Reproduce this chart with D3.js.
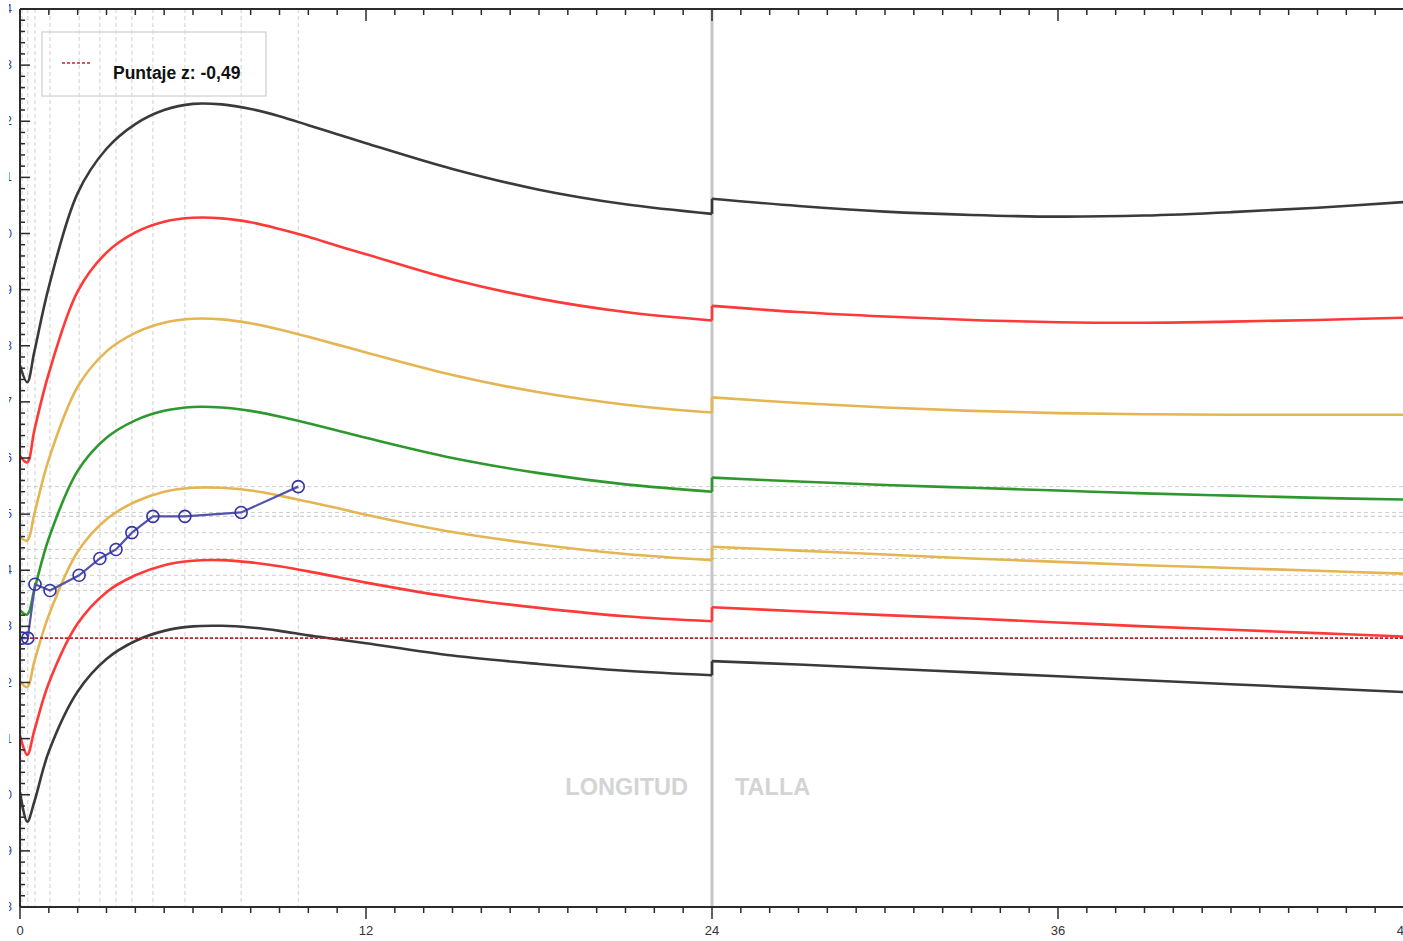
<!DOCTYPE html>
<html>
<head>
<meta charset="utf-8">
<script src="https://cdn.jsdelivr.net/npm/d3@7"></script>
<style>
  html, body { margin: 0; padding: 0; background: #fff; }
  svg { display: block; font-family: "Liberation Sans", Arial, sans-serif; }
</style>
</head>
<body>
<svg id="chart" width="1403" height="941"></svg>
<script>
// BMI-for-age reference curves (girls), z-scores -3..+3
// Ages in months; the 0-24 segment is length-based, 24-48 is height-based.
const lengthAges = [0, 0.25, 0.5, 1, 2, 3, 4, 5, 6, 7, 8, 9, 10, 11, 12, 15, 18, 21, 24];
const heightAges = [24, 27, 30, 33, 36, 39, 42, 45, 48];

const zLabels = ["+3", "+2", "+1", "0", "-1", "-2", "-3"];
const zColors = ["#3a3a3a", "#ff3838", "#e4b552", "#2e982e", "#e4b552", "#ff3838", "#3a3a3a"];

const lengthP3 = [17.65, 17.35, 17.90, 19.05, 20.72, 21.51, 21.95, 22.20, 22.31, 22.30, 22.22, 22.09, 21.93, 21.77, 21.61, 21.15, 20.78, 20.52, 20.35];
const lengthP2 = [16.04, 15.92, 16.50, 17.51, 18.97, 19.66, 20.02, 20.21, 20.28, 20.27, 20.20, 20.08, 19.94, 19.78, 19.63, 19.18, 18.84, 18.60, 18.45];
const lengthP1 = [14.59, 14.53, 15.01, 15.98, 17.27, 17.90, 18.23, 18.41, 18.48, 18.47, 18.40, 18.29, 18.16, 18.02, 17.88, 17.48, 17.17, 16.95, 16.81];
const length0  = [13.29, 13.21, 13.66, 14.57, 15.77, 16.36, 16.67, 16.84, 16.91, 16.90, 16.84, 16.74, 16.62, 16.49, 16.36, 16.00, 15.73, 15.53, 15.40];
const lengthM1 = [12.02, 11.92, 12.38, 13.20, 14.33, 14.91, 15.22, 15.40, 15.47, 15.47, 15.42, 15.33, 15.22, 15.11, 14.99, 14.68, 14.46, 14.29, 14.18];
const lengthM2 = [11.06, 10.71, 11.15, 11.99, 13.05, 13.61, 13.91, 14.09, 14.17, 14.18, 14.14, 14.07, 13.98, 13.88, 13.78, 13.52, 13.33, 13.18, 13.09];
const lengthM3 = [10.05, 9.52, 9.88, 10.77, 11.84, 12.42, 12.74, 12.92, 13.00, 13.01, 12.98, 12.92, 12.84, 12.77, 12.70, 12.48, 12.33, 12.21, 12.13];

const heightP3 = [20.62, 20.49, 20.39, 20.33, 20.30, 20.32, 20.38, 20.46, 20.56];
const heightP2 = [18.71, 18.60, 18.52, 18.46, 18.42, 18.41, 18.43, 18.46, 18.50];
const heightP1 = [17.08, 16.98, 16.90, 16.84, 16.80, 16.78, 16.77, 16.77, 16.77];
const height0  = [15.65, 15.58, 15.52, 15.47, 15.42, 15.37, 15.33, 15.29, 15.26];
const heightM1 = [14.42, 14.35, 14.28, 14.21, 14.15, 14.09, 14.04, 13.99, 13.94];
const heightM2 = [13.34, 13.27, 13.20, 13.14, 13.07, 13.00, 12.94, 12.88, 12.82];
const heightM3 = [12.38, 12.32, 12.25, 12.18, 12.11, 12.04, 11.97, 11.90, 11.83];

const lengthSeries = [lengthP3, lengthP2, lengthP1, length0, lengthM1, lengthM2, lengthM3];
const heightSeries = [heightP3, heightP2, heightP1, height0, heightM1, heightM2, heightM3];

// Child's measurements
const childAges = [0.07, 0.27, 0.52, 1.04, 2.05, 2.77, 3.33, 3.88, 4.61, 5.72, 7.67, 9.65];
const childBmi  = [12.79, 12.79, 13.75, 13.64, 13.91, 14.21, 14.37, 14.67, 14.96, 14.96, 15.03, 15.49];

const zScoreLabel = "Puntaje z: -0,49";
const zScoreLevel = 12.79;

const xTickLabels = [0, 12, 24, 36, 48];
const yTickLabels = d3.range(8, 25, 1);

const svg = d3.select("#chart");
const W = 1403, H = 941;
const mLeft = 20, mRight = 1404, mTop = 9, mBottom = 907;

const x = d3.scaleLinear().domain([0, 48]).range([mLeft, mRight]);
const y = d3.scaleLinear().domain([8, 24]).range([mBottom, mTop]);

const defs = svg.append("defs");
defs.append("clipPath").attr("id", "plot")
  .append("rect").attr("x", mLeft).attr("y", mTop).attr("width", mRight - mLeft).attr("height", mBottom - mTop);
defs.append("clipPath").attr("id", "ylab")
  .append("rect").attr("x", 9).attr("y", 0).attr("width", 11).attr("height", H);

const plot = svg.append("g").attr("clip-path", "url(#plot)");

// Dashed grid at each measurement
plot.append("g").selectAll("line").data(childAges).join("line")
  .attr("x1", d => x(d)).attr("x2", d => x(d))
  .attr("y1", mTop).attr("y2", mBottom)
  .attr("stroke", "#cfcfcf").attr("stroke-width", 1).attr("stroke-dasharray", "4,3");

plot.append("g").selectAll("line").data(childBmi).join("line")
  .attr("x1", mLeft).attr("x2", mRight)
  .attr("y1", d => y(d)).attr("y2", d => y(d))
  .attr("stroke", "#cfcfcf").attr("stroke-width", 1).attr("stroke-dasharray", "4,3");

// Length / height divider
plot.append("line")
  .attr("x1", x(24)).attr("x2", x(24)).attr("y1", mTop).attr("y2", mBottom)
  .attr("stroke", "#c6c6c6").attr("stroke-width", 3);

// Segment labels
svg.append("text").attr("x", x(24) - 24).attr("y", 795).attr("text-anchor", "end")
  .attr("font-size", 23.5).attr("font-weight", "bold").attr("fill", "#d4d4d4").text("LONGITUD");
svg.append("text").attr("x", x(24) + 23).attr("y", 795).attr("text-anchor", "start")
  .attr("font-size", 23.5).attr("font-weight", "bold").attr("fill", "#d4d4d4").text("TALLA");

// Reference curves
const line = d3.line().x(d => x(d[0])).y(d => y(d[1])).curve(d3.curveCatmullRom.alpha(0.5));
zLabels.forEach((z, i) => {
  const g = plot.append("g").attr("fill", "none").attr("stroke", zColors[i]).attr("stroke-width", 2.6);
  const a = lengthAges.map((m, k) => [m, lengthSeries[i][k]]);
  const b = heightAges.map((m, k) => [m, heightSeries[i][k]]);
  g.append("path").attr("d", line(a));
  g.append("path").attr("d", line(b));
  g.append("line")
    .attr("x1", x(24)).attr("x2", x(24))
    .attr("y1", y(lengthSeries[i][lengthSeries[i].length - 1]))
    .attr("y2", y(heightSeries[i][0]));
});

// z-score reference level
plot.append("line")
  .attr("x1", mLeft).attr("x2", mRight)
  .attr("y1", y(zScoreLevel)).attr("y2", y(zScoreLevel))
  .attr("stroke", "#b8242a").attr("stroke-width", 1.6).attr("stroke-dasharray", "3,2");

// Child's series
const childPts = childAges.map((m, k) => [m, childBmi[k]]);
plot.append("path")
  .attr("d", d3.line().x(d => x(d[0])).y(d => y(d[1]))(childPts))
  .attr("fill", "none").attr("stroke", "#5353aa").attr("stroke-width", 2.2);
plot.append("g").selectAll("circle").data(childPts).join("circle")
  .attr("cx", d => x(d[0])).attr("cy", d => y(d[1])).attr("r", 6)
  .attr("fill", "none").attr("stroke", "#3434a6").attr("stroke-width", 1.6);

// Axes
const axisColor = "#2b2b2b";
const monthTicks = d3.range(0, 49, 1);

// bottom
const gb = svg.append("g");
gb.append("line").attr("x1", mLeft).attr("x2", W).attr("y1", mBottom).attr("y2", mBottom)
  .attr("stroke", axisColor).attr("stroke-width", 2);
gb.selectAll("line.t").data(monthTicks).join("line").attr("class", "t")
  .attr("x1", d => x(d)).attr("x2", d => x(d))
  .attr("y1", mBottom).attr("y2", d => mBottom + (d % 12 === 0 ? 12 : 6))
  .attr("stroke", axisColor).attr("stroke-width", 1.5);
gb.selectAll("text").data(xTickLabels).join("text")
  .attr("x", d => x(d)).attr("y", 935).attr("text-anchor", "middle")
  .attr("font-size", 13).attr("fill", "#333").text(d => d);

// top
const gt = svg.append("g");
gt.append("line").attr("x1", mLeft).attr("x2", W).attr("y1", mTop).attr("y2", mTop)
  .attr("stroke", axisColor).attr("stroke-width", 2);
gt.selectAll("line.t").data(monthTicks).join("line").attr("class", "t")
  .attr("x1", d => x(d)).attr("x2", d => x(d))
  .attr("y1", mTop).attr("y2", d => mTop + (d % 12 === 0 ? 12 : 6))
  .attr("stroke", axisColor).attr("stroke-width", 1.5);

// left
const bmiTicks = d3.range(0, 81).map(k => 8 + k * 0.2);
const gl = svg.append("g");
gl.append("line").attr("x1", mLeft).attr("x2", mLeft).attr("y1", mTop).attr("y2", mBottom)
  .attr("stroke", axisColor).attr("stroke-width", 2);
gl.selectAll("line.t").data(bmiTicks).join("line").attr("class", "t")
  .attr("x1", mLeft).attr("x2", (d, k) => mLeft + (k % 5 === 0 ? 10 : 5))
  .attr("y1", d => y(d)).attr("y2", d => y(d))
  .attr("stroke", axisColor).attr("stroke-width", 1.5);
gl.append("g").attr("clip-path", "url(#ylab)")
  .selectAll("text").data(yTickLabels).join("text")
  .attr("x", 12).attr("y", d => y(d) + 4).attr("text-anchor", "end")
  .attr("font-size", 12).attr("fill", "#2a3aa0").text(d => d);

// Legend
const lg = svg.append("g");
lg.append("rect").attr("x", 42).attr("y", 32).attr("width", 224).attr("height", 64)
  .attr("fill", "none").attr("stroke", "#d8d8d8").attr("stroke-width", 1.5);
lg.append("line").attr("x1", 62).attr("x2", 92).attr("y1", 63).attr("y2", 63)
  .attr("stroke", "#c0282a").attr("stroke-width", 1.6).attr("stroke-dasharray", "3,2");
lg.append("text").attr("x", 113).attr("y", 79)
  .attr("font-size", 17.5).attr("font-weight", "bold").attr("fill", "#111").text(zScoreLabel);
</script>
</body>
</html>
